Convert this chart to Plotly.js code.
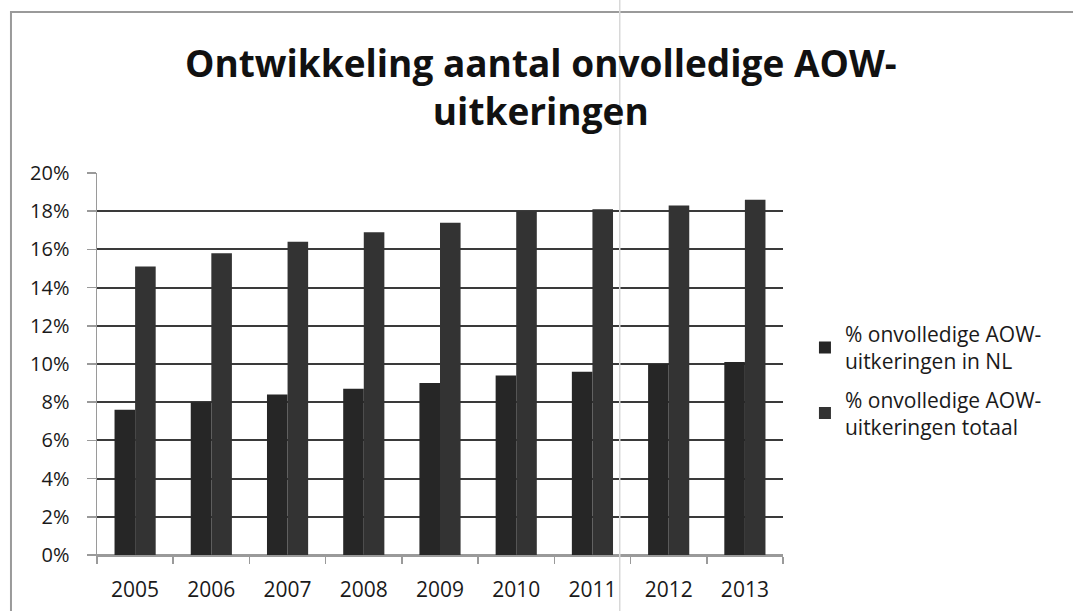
<!DOCTYPE html>
<html>
<head>
<meta charset="utf-8">
<script src="https://cdn.plot.ly/plotly-3.0.1.min.js"></script>
<style>html,body{margin:0;padding:0;background:#fff;}#chart{width:1073px;height:611px;}</style>
</head>
<body>
<div id="chart"></div>
<script>
const years = ['2005','2006','2007','2008','2009','2010','2011','2012','2013'];
const pctNL = [7.6, 8.0, 8.4, 8.7, 9.0, 9.4, 9.6, 10.0, 10.1];
const pctTotaal = [15.1, 15.8, 16.4, 16.9, 17.4, 18.0, 18.1, 18.3, 18.6];
const seriesNames = ['% onvolledige AOW-<br>uitkeringen in NL', '% onvolledige AOW-<br>uitkeringen totaal'];
const titleText = 'Ontwikkeling aantal onvolledige AOW-<br>uitkeringen';

const FONT = 'Open Sans, Lato, sans-serif';

const traces = [
  {type:'bar', x: years, y: pctNL, name: seriesNames[0], legendgroup:'nl', marker:{color:'#262626'}, hoverinfo:'x+y'},
  {type:'bar', x: years, y: pctTotaal, name: seriesNames[1], legendgroup:'totaal', marker:{color:'#333333'}, hoverinfo:'x+y'}
];

const layout = {
  width:1073, height:611,
  paper_bgcolor:'#ffffff', plot_bgcolor:'#ffffff',
  margin:{l:97, r:290, t:173, b:56},
  barmode:'group', bargap:0.46, bargroupgap:0,
  font:{family:FONT, color:'#1a1a1a', size:20},
  title:{
    text:titleText, xref:'container', yref:'container',
    x:0.504, xanchor:'center', y:0.874, yanchor:'top',
    font:{family:FONT, size:37, color:'#111111', weight:'bold'}
  },
  xaxis:{
    type:'category', showgrid:false, showline:true, linecolor:'#9a9a9a', linewidth:1.5,
    ticks:'outside', tickson:'boundaries', ticklen:7, tickcolor:'#9a9a9a', tickwidth:1.5,
    tickfont:{family:FONT, size:21, color:'#1a1a1a'}, ticklabelstandoff:15
  },
  yaxis:{
    range:[0,20], dtick:2, ticksuffix:'%', showgrid:true, gridcolor:'#3a3a3a', gridwidth:2,
    zeroline:true, zerolinecolor:'#9a9a9a', zerolinewidth:1.5,
    showline:true, linecolor:'#9a9a9a', linewidth:1.5,
    ticks:'outside', ticklen:9, tickcolor:'#9a9a9a', tickwidth:1.5,
    tickfont:{family:FONT, size:20, color:'#1a1a1a'}, ticklabelstandoff:13
  },
  legend:{
    x:1.032, xanchor:'left', y:0.632, yanchor:'top',
    font:{family:FONT, size:21, color:'#1a1a1a'},
    bgcolor:'rgba(0,0,0,0)', tracegroupgap:8
  },
  showlegend:true,
  shapes:[
    {type:'rect', xref:'paper', yref:'paper', x0:-0.1254, x1:1.45, y0:-0.2, y1:1.4215,
     line:{color:'#9a9a9a', width:2}, fillcolor:'rgba(0,0,0,0)', layer:'below'},
    {type:'line', xref:'paper', yref:'paper', x0:0.762, x1:0.762, y0:-0.2, y1:1.5,
     line:{color:'#d8d8d8', width:1.5}, layer:'above'}
  ]
};

Plotly.newPlot('chart', traces, layout, {displayModeBar:false, staticPlot:true});
</script>
</body>
</html>
